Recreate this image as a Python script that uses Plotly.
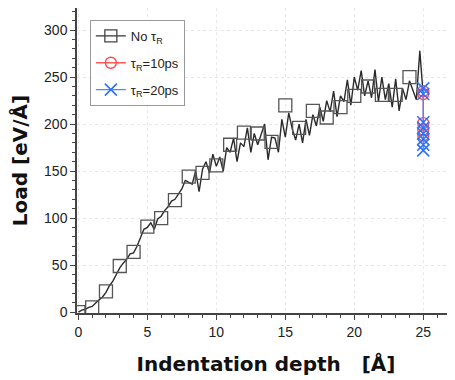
import plotly.graph_objects as go

# Noisy load curve (No tau_R), sampled every 0.25 A
depth_line = [i * 0.25 for i in range(101)]
load_line = [0,
             2, 3, 5, 6,
             10, 13, 16, 21,
             28, 33, 40, 47,
             52, 56, 62, 63,
             70, 80, 88, 90,
             95, 88, 99, 102,
             108, 112, 118, 120,
             125, 131, 140, 138,
             136, 150, 128, 152,
             160, 148, 168, 155,
             165, 150, 175, 170,
             185, 160, 180, 176,
             196, 170, 190, 178,
             190, 200, 162, 186,
             185, 170, 205, 186,
             212, 195, 183, 200,
             180, 205, 188, 210,
             198, 218, 203, 225,
             213, 235, 208, 230,
             224, 247, 220, 250,
             236, 257, 230, 246,
             228, 258, 224, 250,
             226, 243, 218, 248,
             214, 238, 226, 246,
             236, 226, 278, 230]

# Square markers (No tau_R)
depth_sq = list(range(25))
load_sq = [0, 5, 22, 49, 64, 91, 100, 119, 144, 148, 156, 178, 191, 190,
           181, 220, 196, 214, 207, 218, 230, 240, 231, 231, 250]

# tau_R = 10 ps
depth_10 = [25, 25, 25, 25, 25]
load_10 = [235, 232, 201, 194, 188]

# tau_R = 20 ps
depth_20 = [25, 25, 25, 25, 25, 25, 25, 25]
load_20 = [238, 232, 202, 196, 190, 184, 178, 172]

fig = go.Figure()

fig.add_trace(go.Scatter(x=depth_line, y=load_line, mode="lines",
                         line=dict(color="#2a2a2a", width=1.4),
                         showlegend=False, hoverinfo="skip"))
fig.add_trace(go.Scatter(x=depth_sq, y=load_sq, mode="markers",
                         marker=dict(symbol="square-open", size=13,
                                     color="#555555", line=dict(width=1.3)),
                         showlegend=False))
# legend entry for the black series
fig.add_trace(go.Scatter(x=[None], y=[None], mode="lines+markers",
                         name="No τ<sub>R</sub>", legendgroup="a",
                         line=dict(color="#333333", width=1.4),
                         marker=dict(symbol="square-open", size=12,
                                     color="#444444", line=dict(width=1.3))))
fig.add_trace(go.Scatter(x=depth_10, y=load_10, mode="lines+markers",
                         name="τ<sub>R</sub>=10ps", legendgroup="b",
                         line=dict(color="#ff5a5a", width=1.4),
                         marker=dict(symbol="circle-open", size=11,
                                     color="#ff4a4a", line=dict(width=1.4))))
fig.add_trace(go.Scatter(x=depth_20, y=load_20, mode="lines+markers",
                         name="τ<sub>R</sub>=20ps", legendgroup="c",
                         line=dict(color="#4a8cff", width=1.4),
                         marker=dict(symbol="x-thin-open", size=12,
                                     color="#2f6fff", line=dict(width=1.6))))

axis_common = dict(
    showline=True, linecolor="#444444", linewidth=1.5,
    ticks="outside", ticklen=5, tickwidth=1.3, tickcolor="#444444",
    showgrid=True, gridcolor="#e8e8e8", griddash="dot", gridwidth=1,
    zeroline=False, automargin=False,
    tickfont=dict(family="Liberation Sans, Arial", size=14, color="#222222"),
    minor=dict(ticks="outside", ticklen=3, tickwidth=1.2, tickcolor="#444444",
               showgrid=False),
)

title_font = dict(family="DejaVu Sans, Liberation Sans", size=20, color="#111111")

fig.update_xaxes(range=[-0.1, 27.3], dtick=5, tick0=0,
                 title=dict(text="<b>Indentation depth&nbsp;&nbsp;&nbsp;[Å]</b>",
                            font=title_font, standoff=18),
                 **axis_common)
fig.update_yaxes(range=[-1, 323.5], dtick=50, tick0=0,
                 title=dict(text="<b>Load [eV/Å]</b>",
                            font=title_font, standoff=11),
                 **axis_common)

# page body adds an 8px offset; the figure is sized to fill the rest
fig.update_layout(
    width=447, height=372,
    margin=dict(l=69, r=0, t=0, b=67),
    paper_bgcolor="white", plot_bgcolor="white",
    legend=dict(x=0.034, y=0.961, xanchor="left", yanchor="top",
                bgcolor="white", bordercolor="#999999", borderwidth=1,
                font=dict(family="Liberation Sans, Arial", size=13,
                          color="#222222"),
                itemwidth=30, tracegroupgap=7),
    showlegend=True,
)

fig.write_html("out.html")
